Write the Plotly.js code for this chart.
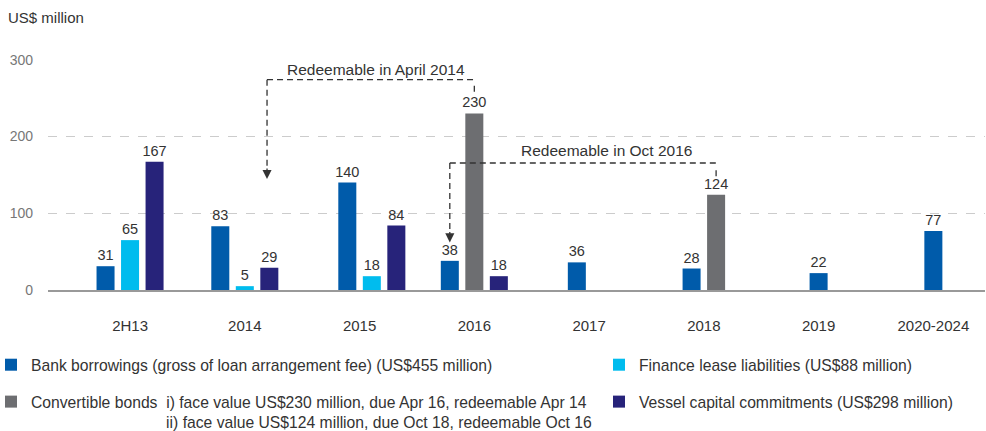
<!DOCTYPE html>
<html>
<head>
<meta charset="utf-8">
<script src="https://cdn.plot.ly/plotly-3.0.1.min.js"></script>
<style>
  html, body { margin: 0; padding: 0; background: #fff; }
  #chart { width: 986px; height: 431px; }
</style>
</head>
<body>
<div id="chart"></div>
<script>
// ---- data ----
const categories = ['2H13', '2014', '2015', '2016', '2017', '2018', '2019', '2020-2024'];
const bankBorrowings = [31, 83, 140, 38, 36, 28, 22, 77];
const financeLease = [65, 5, 18, null, null, null, null, null];
const convertibleBonds = [null, null, null, 230, null, 124, null, null];
const vesselCommitments = [167, 29, 84, 18, null, null, null, null];
const yTicks = [0, 100, 200, 300];
const seriesNames = [
  'Bank borrowings (gross of loan arrangement fee) (US$455 million)',
  'Finance lease liabilities (US$88 million)',
  'Convertible bonds\u00A0\u00A0i) face value US$230 million, due Apr 16, redeemable Apr 14',
  'Vessel capital commitments (US$298 million)'
];
const convertibleLine2 = 'ii) face value US$124 million, due Oct 18, redeemable Oct 16';
const note1 = 'Redeemable in April 2014';
const note2 = 'Redeemable in Oct 2016';

// ---- layout rules ----
const FONT = 'Liberation Sans, Arial, sans-serif';
const colors = ['#005BAA', '#00BCEE', '#6D6E71', '#27237A'];
const slotW = 0.2136;     // distance between neighbouring bar centres (category units)
const barW = 0.157;       // bar width (category units)
const groupShift = [0, 0, 0.5, 0, 0.5, 0.5, 1, 1]; // per-category group shift, in slots
const seriesSlot = [-1, 0, 0, 1];

function offsets(slot) {
  return groupShift.map(s => (slot + s) * slotW - barW / 2);
}
function slotCenter(catIdx, slot) {
  return catIdx + (slot + groupShift[catIdx]) * slotW;
}

const allValues = [bankBorrowings, financeLease, convertibleBonds, vesselCommitments];
const legendOf = ['legend', 'legend2', 'legend', 'legend2'];

const traces = allValues.map((vals, k) => ({
  type: 'bar',
  name: k === 2
    ? seriesNames[2] + '<br>' + '\u00A0'.repeat(31) + convertibleLine2
    : seriesNames[k],
  x: categories,
  y: vals,
  width: barW,
  offset: offsets(seriesSlot[k]),
  marker: { color: colors[k], line: { width: 0 } },
  text: vals.map(v => (v == null ? '' : String(v))),
  textposition: 'outside',
  constraintext: 'none',
  textfont: { family: FONT, size: 14.5, color: '#333' },
  cliponaxis: false,
  legend: legendOf[k],
  legendgroup: 'g' + k,
  hoverinfo: 'x+y'
}));

const dashStyle = { color: '#333', width: 1.3, dash: '6px,4px' };
function seg(x0, y0, x1, y1) {
  return { type: 'line', xref: 'x', yref: 'y', x0, y0, x1, y1, line: dashStyle, layer: 'above' };
}

// bracket 1: April 2014 (from 2016 convertible bar to 2014)
const b1L = slotCenter(1, 1) - 0.02, b1R = slotCenter(3, 0);
// bracket 2: Oct 2016 (from 2018 convertible bar to 2016)
const b2L = slotCenter(3, -1), b2R = slotCenter(5, 0);

const shapes = [
  seg(b1L, 274, b1R, 274),
  seg(b1L, 274, b1L, 158),
  seg(b1R, 266, b1R, 257),
  seg(b2L, 165.5, b2R, 165.5),
  seg(b2L, 165.5, b2L, 76),
  seg(b2R, 156, b2R, 147)
];

const annFont = { family: FONT, size: 15.5, color: '#333' };
const annotations = [
  { xref: 'x', yref: 'y', x: 2.14, y: 287, text: note1, showarrow: false, font: annFont },
  { xref: 'x', yref: 'y', x: 4.148, y: 182, text: note2, showarrow: false, font: annFont },
  { xref: 'x', yref: 'y', x: b1L, y: 144.5, text: '', showarrow: true, ax: 0, ay: -12,
    arrowhead: 2, arrowsize: 1.4, arrowwidth: 1.3, arrowcolor: '#333' },
  { xref: 'x', yref: 'y', x: b2L, y: 62, text: '', showarrow: true, ax: 0, ay: -12,
    arrowhead: 2, arrowsize: 1.4, arrowwidth: 1.3, arrowcolor: '#333' }
];

const legendBase = {
  orientation: 'v',
  xref: 'paper', yref: 'container',
  xanchor: 'left', yanchor: 'top',
  y: 1 - 348 / 431,
  font: { family: FONT, size: 15.7, color: '#333' },
  bgcolor: 'rgba(0,0,0,0)',
  borderwidth: 0,
  traceorder: 'grouped',
  tracegroupgap: 13.5,
  valign: 'top'
};

const plotL = 48, plotW = 986 - 48 - 1;

const layout = {
  width: 986,
  height: 431,
  paper_bgcolor: '#fff',
  plot_bgcolor: '#fff',
  font: { family: FONT, size: 14, color: '#333' },
  margin: { l: plotL, r: 1, t: 59.2, b: 141.3, autoexpand: false },
  barmode: 'overlay',
  title: {
    text: 'US$ million',
    font: { family: FONT, size: 15, color: '#333' },
    xref: 'container', yref: 'container',
    x: 8 / 986, xanchor: 'left',
    y: 1 - 18 / 431, yanchor: 'middle'
  },
  xaxis: {
    type: 'category',
    range: [-0.715, 7.45],
    showgrid: false,
    zeroline: false,
    showline: true,
    linecolor: '#999',
    linewidth: 1.5,
    ticks: '',
    ticklabelstandoff: 21,
    tickfont: { family: FONT, size: 15, color: '#333' },
    fixedrange: true
  },
  yaxis: {
    range: [0, 301],
    tickvals: yTicks,
    ticktext: yTicks.map(String),
    showgrid: true,
    gridcolor: '#cccccc',
    griddash: 'dash',
    gridwidth: 1,
    zeroline: false,
    showline: false,
    ticks: '',
    ticklabelstandoff: 14,
    tickfont: { family: FONT, size: 14, color: '#777' },
    fixedrange: true
  },
  showlegend: true,
  legend: Object.assign({}, legendBase, { x: (-9 - plotL) / plotW }),
  legend2: Object.assign({}, legendBase, { x: (599 - plotL) / plotW }),
  shapes,
  annotations
};

Plotly.newPlot('chart', traces, layout, { displayModeBar: false, staticPlot: true });
</script>
</body>
</html>
